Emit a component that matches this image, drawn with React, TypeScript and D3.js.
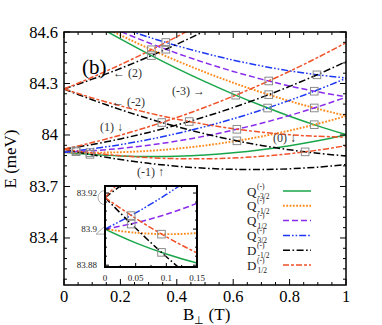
import React from "react";
import * as d3 from "d3";

// magnetic field grid (T)
const B_GRID = [0, 0.05, 0.1, 0.15, 0.2, 0.3, 0.4, 0.5, 0.6, 0.7, 0.8, 0.9, 1.0];

// Q(-) states, orbital branch (0)
const qM32_0 = [83.9, 83.8924, 83.8862, 83.8812, 83.8776, 83.8744, 83.8764, 83.8838, 83.8964, 83.9144, 83.9376, 83.9662, 84.0];
const qM12_0 = [83.9, 83.898, 83.8972, 83.8978, 83.8996, 83.9074, 83.9204, 83.9388, 83.9624, 83.9914, 84.0256, 84.0652, 84.11];
const qP12_0 = [83.9, 83.9035, 83.9082, 83.9143, 83.9216, 83.9404, 83.9644, 83.9938, 84.0284, 84.0684, 84.1136, 84.1642, 84.22];
const qP32_0 = [83.9, 83.909, 83.9192, 83.9308, 83.9436, 83.9734, 84.0084, 84.0488, 84.0944, 84.1454, 84.2016, 84.2632, 84.33];
// Q(-) states, orbital branch (-3)
const qM32_m3 = [84.752, 84.702, 84.6532, 84.6058, 84.5596, 84.4714, 84.3884, 84.3108, 84.2384, 84.1714, 84.1096, 84.0532, 84.002];
const qM12_m3 = [84.752, 84.7075, 84.6642, 84.6223, 84.5816, 84.5044, 84.4324, 84.3658, 84.3044, 84.2484, 84.1976, 84.1522, 84.112];
const qP12_m3 = [84.752, 84.7128, 84.6752, 84.6388, 84.6036, 84.5374, 84.4764, 84.4208, 84.3704, 84.3254, 84.2856, 84.2512, 84.222];
const qP32_m3 = [84.752, 84.7185, 84.6862, 84.6553, 84.6256, 84.5704, 84.5204, 84.4758, 84.4364, 84.4024, 84.3736, 84.3502, 84.332];
// D(-) states, branches (2), (-2), (1), (-1)
const dM12_p2 = [84.268, 84.296, 84.3252, 84.3558, 84.3876, 84.4554, 84.5284, 84.6068, 84.6904, 84.7793, 84.8736, 84.9732, 85.078];
const dP12_p2 = [84.268, 84.3015, 84.3362, 84.3723, 84.4096, 84.4884, 84.5724, 84.6618, 84.7564, 84.8563, 84.9616, 85.0722, 85.188];
const dM12_m2 = [84.268, 84.236, 84.2052, 84.1758, 84.1476, 84.0954, 84.0484, 84.0068, 83.9704, 83.9394, 83.9136, 83.8932, 83.878];
const dP12_m2 = [84.268, 84.2415, 84.2162, 84.1923, 84.1696, 84.1284, 84.0924, 84.0618, 84.0364, 84.0164, 84.0016, 83.9922, 83.988];
const dM12_p1 = [83.9175, 83.9305, 83.9447, 83.9603, 83.9771, 84.0149, 84.0579, 84.1063, 84.1599, 84.2189, 84.2831, 84.3527, 84.4275];
const dP12_p1 = [83.9175, 83.936, 83.9557, 83.9768, 83.9991, 84.0479, 84.1019, 84.1613, 84.2259, 84.2959, 84.3711, 84.4517, 84.5375];
const dM12_m1 = [83.9175, 83.9005, 83.8847, 83.8703, 83.8571, 83.8349, 83.8179, 83.8063, 83.7999, 83.7989, 83.8031, 83.8127, 83.8275];
const dP12_m1 = [83.9175, 83.906, 83.8957, 83.8868, 83.8791, 83.8679, 83.8619, 83.8613, 83.8659, 83.8759, 83.8911, 83.9117, 83.9375];

// crossing markers (B, E)
const crossB = [0.361, 0.361, 0.31, 0.31, 0.609, 0.726, 0.726, 0.897, 0.722, 0.8875, 0.8875, 0.8875, 0.855, 0.613, 0.613, 0.347, 0.444, 0.0427, 0.0427, 0.0921, 0.0921];
const crossE = [84.539, 84.4995, 84.4966, 84.4625, 84.232, 84.3147, 84.2349, 84.3505, 84.157, 84.255, 84.1575, 84.06, 83.9017, 84.0333, 83.966, 84.0726, 84.0784, 83.9075, 83.9028, 83.8972, 83.8871];

// legend
const legendLetters = ["Q", "Q", "Q", "Q", "D", "D"];
const legendSubs = ["-3/2", "-1/2", "1/2", "3/2", "-1/2", "1/2"];

// ticks
const xMajor = [0, 0.2, 0.4, 0.6, 0.8, 1];
const xLabels = ["0", "0.2", "0.4", "0.6", "0.8", "1"];
const yMajor = [83.4, 83.7, 84.0, 84.3, 84.6];
const yLabels = ["83.4", "83.7", "84", "84.3", "84.6"];
const insetXMajor = [0, 0.05, 0.1, 0.15];
const insetXLabels = ["0", "0.05", "0.1", "0.15"];
const insetYMajor = [83.88, 83.9, 83.92];
const insetYLabels = ["83.88", "83.9", "83.92"];

// level annotations
const annTexts = ["\u2190 (2)", "\u2190 (-2)", "(1) \u2193", "(-1) \u2191", "(-3) \u2192", "(0) \u2193"];
const annB = [0.174, 0.17, 0.128, 0.259, 0.383, 0.741];
const annE = [84.338, 84.169, 84.023, 83.761, 84.233, 83.959];

const COLORS = ["#19a64a", "#ff8a1c", "#8a2bec", "#1c38f4", "#000000", "#f0522a"];
const DASHES = ["none", "1.8,1.5", "6,3", "7,2,1.6,2,1.6,2", "7,2.5,1.6,2.5", "6,2,3,2"];
const SERIES_CURVES = [
  [qM32_0, qM32_m3],
  [qM12_0, qM12_m3],
  [qP12_0, qP12_m3],
  [qP32_0, qP32_m3],
  [dM12_p2, dM12_m2, dM12_p1, dM12_m1],
  [dP12_p2, dP12_m2, dP12_p1, dP12_m1],
];

const FONT = "'Liberation Serif', 'Times New Roman', serif";

export default function App() {
  const L = 64, R = 346, T = 32, Bt = 285;
  const x = d3.scaleLinear().domain([0, 1]).range([L, R]);
  const y = d3.scaleLinear().domain([83.126, 84.6]).range([Bt, T]);
  const IL = 105, IR = 197, IT = 186, IB = 267;
  const xi = d3.scaleLinear().domain([0, 0.15]).range([IL, IR]);
  const yi = d3.scaleLinear().domain([83.879, 83.9239]).range([IB, IT]);

  const mkLine = (sx: any, sy: any) =>
    d3
      .line<number>()
      .x((_, i) => sx(B_GRID[i]))
      .y((d) => sy(d))
      .curve(d3.curveCatmullRom.alpha(0.5));
  const mainLine = mkLine(x, y);
  const insetLine = mkLine(xi, yi);

  const xMinor = d3.range(0, 1.0001, 0.05).filter((v) => !xMajor.some((m) => Math.abs(m - v) < 1e-6));
  const yMinor = d3.range(83.16, 84.6001, 0.06).filter((v) => !yMajor.some((m) => Math.abs(m - v) < 1e-6));
  const ixMinor = d3.range(0, 0.1501, 0.025).filter((v) => !insetXMajor.some((m) => Math.abs(m - v) < 1e-6));
  const iyMinor = d3.range(83.88, 83.9239, 0.005).filter((v) => !insetYMajor.some((m) => Math.abs(m - v) < 1e-6));

  const drawCurves = (lineGen: any, width: number) =>
    SERIES_CURVES.map((curves, si) =>
      curves.map((c, ci) => (
        <path
          key={`${si}-${ci}`}
          d={lineGen(c) || ""}
          fill="none"
          stroke={COLORS[si]}
          strokeWidth={si === 1 ? 1.9 : width}
          strokeDasharray={DASHES[si]}
        />
      ))
    );

  const sq = 3.8;

  return (
    <svg
      width={382}
      height={325}
      style={{ position: "absolute", left: 0, top: 0, background: "#fff" }}
      fontFamily={FONT}
    >
      <defs>
        <clipPath id="mainClip">
          <rect x={L} y={T} width={R - L} height={Bt - T} />
        </clipPath>
        <clipPath id="insetClip">
          <rect x={IL} y={IT} width={IR - IL} height={IB - IT} />
        </clipPath>
      </defs>
      <rect x={0} y={0} width={382} height={325} fill="#fff" />

      {/* main curves */}
      <g clipPath="url(#mainClip)">
        {drawCurves(mainLine, 1.5)}
        {crossB.map((b, i) => (
          <rect
            key={i}
            x={x(b) - sq}
            y={y(crossE[i]) - sq}
            width={sq * 2}
            height={sq * 2}
            fill="none"
            stroke="#8c8c8c"
            strokeWidth={1}
          />
        ))}
      </g>

      {/* main frame */}
      <rect x={L} y={T} width={R - L} height={Bt - T} fill="none" stroke="#000" strokeWidth={1.5} />
      {/* ticks */}
      {xMajor.map((v, i) => (
        <g key={`xm${i}`}>
          <line x1={x(v)} x2={x(v)} y1={Bt} y2={Bt - 6} stroke="#000" strokeWidth={1} />
          <line x1={x(v)} x2={x(v)} y1={T} y2={T + 6} stroke="#000" strokeWidth={1} />
          <text x={x(v)} y={302} fontSize={16.5} textAnchor="middle">
            {xLabels[i]}
          </text>
        </g>
      ))}
      {xMinor.map((v, i) => (
        <g key={`xn${i}`}>
          <line x1={x(v)} x2={x(v)} y1={Bt} y2={Bt - 3} stroke="#000" strokeWidth={1} />
          <line x1={x(v)} x2={x(v)} y1={T} y2={T + 3} stroke="#000" strokeWidth={1} />
        </g>
      ))}
      {yMajor.map((v, i) => (
        <g key={`ym${i}`}>
          <line x1={L} x2={L + 6} y1={y(v)} y2={y(v)} stroke="#000" strokeWidth={1} />
          <line x1={R} x2={R - 6} y1={y(v)} y2={y(v)} stroke="#000" strokeWidth={1} />
          <text x={58} y={y(v) + 5.5} fontSize={16.5} textAnchor="end">
            {yLabels[i]}
          </text>
        </g>
      ))}
      {yMinor.map((v, i) => (
        <g key={`yn${i}`}>
          <line x1={L} x2={L + 3} y1={y(v)} y2={y(v)} stroke="#000" strokeWidth={1} />
          <line x1={R} x2={R - 3} y1={y(v)} y2={y(v)} stroke="#000" strokeWidth={1} />
        </g>
      ))}

      {/* axis titles */}
      <text transform="translate(16,159) rotate(-90)" fontSize={17} textAnchor="middle">
        E (meV)
      </text>
      <text x={183} y={320} fontSize={17}>
        B<tspan fontSize={11} dy={4}>{"\u22a5"}</tspan>
        <tspan dy={-4}> (T)</tspan>
      </text>

      <text x={82} y={74} fontSize={21}>
        (b)
      </text>

      {/* annotations */}
      {annTexts.map((t, i) => (
        <text key={`an${i}`} x={x(annB[i])} y={y(annE[i])} fontSize={12} fill="#333">
          {t}
        </text>
      ))}

      {/* B=0 markers behind inset */}
      <circle cx={xi(0)} cy={yi(83.9175)} r={7} fill="none" stroke="#aaa" strokeWidth={1} />
      <path
        d={`M${xi(0)},${yi(83.9) - 3} L${xi(0) - 9},${yi(83.9) + 5} L${xi(0) + 9},${yi(83.9) + 5} Z`}
        fill="none"
        stroke="#aaa"
        strokeWidth={1}
      />

      {/* inset */}
      <rect x={IL} y={IT} width={IR - IL} height={IB - IT} fill="#fff" />
      <g clipPath="url(#insetClip)">
        {drawCurves(insetLine, 1.5)}
        {crossB.map((b, i) => (
          <rect
            key={`is${i}`}
            x={xi(b) - sq}
            y={yi(crossE[i]) - sq}
            width={sq * 2}
            height={sq * 2}
            fill="none"
            stroke="#8c8c8c"
            strokeWidth={1}
          />
        ))}
      </g>
      <rect x={IL} y={IT} width={IR - IL} height={IB - IT} fill="none" stroke="#000" strokeWidth={2} />
      {insetXMajor.map((v, i) => (
        <g key={`ixm${i}`}>
          <line x1={xi(v)} x2={xi(v)} y1={IB} y2={IB - 4} stroke="#000" />
          <line x1={xi(v)} x2={xi(v)} y1={IT} y2={IT + 4} stroke="#000" />
          <text x={xi(v)} y={281} fontSize={9} textAnchor="middle" fill="#222">
            {insetXLabels[i]}
          </text>
        </g>
      ))}
      {ixMinor.map((v, i) => (
        <g key={`ixn${i}`}>
          <line x1={xi(v)} x2={xi(v)} y1={IB} y2={IB - 2} stroke="#000" />
          <line x1={xi(v)} x2={xi(v)} y1={IT} y2={IT + 2} stroke="#000" />
        </g>
      ))}
      {insetYMajor.map((v, i) => (
        <g key={`iym${i}`}>
          <line x1={IL} x2={IL + 4} y1={yi(v)} y2={yi(v)} stroke="#000" />
          <line x1={IR} x2={IR - 4} y1={yi(v)} y2={yi(v)} stroke="#000" />
          <text x={97} y={yi(v) + 3} fontSize={9} textAnchor="end" fill="#222">
            {insetYLabels[i]}
          </text>
        </g>
      ))}
      {iyMinor.map((v, i) => (
        <g key={`iyn${i}`}>
          <line x1={IL} x2={IL + 2} y1={yi(v)} y2={yi(v)} stroke="#000" />
          <line x1={IR} x2={IR - 2} y1={yi(v)} y2={yi(v)} stroke="#000" />
        </g>
      ))}

      {/* legend */}
      {legendLetters.map((letter, i) => {
        const ly = 191 + i * 14.8;
        return (
          <g key={`lg${i}`}>
            <text x={247} y={ly + 4.5} fontSize={13} fill="#222">
              {letter}
            </text>
            <text x={257} y={ly - 2.5} fontSize={7.5} fill="#222">
              (-)
            </text>
            <text x={257.5} y={ly + 8} fontSize={7.5} fill="#222">
              {legendSubs[i]}
            </text>
            <line
              x1={283}
              x2={311}
              y1={ly}
              y2={ly}
              stroke={COLORS[i]}
              strokeWidth={i === 1 ? 1.9 : 1.5}
              strokeDasharray={DASHES[i]}
            />
          </g>
        );
      })}
    </svg>
  );
}
